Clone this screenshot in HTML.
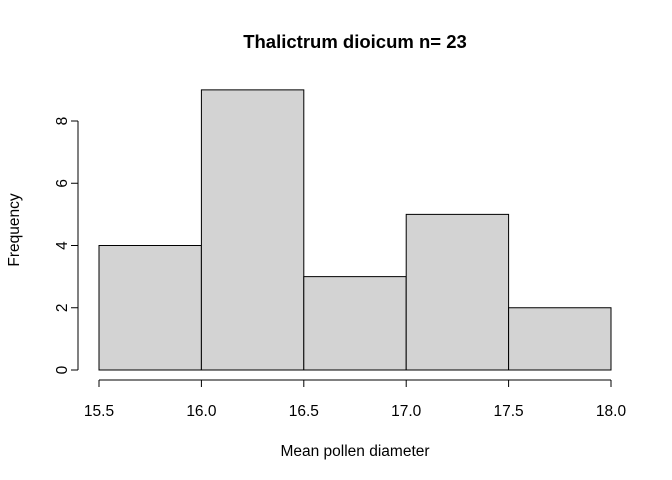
<!DOCTYPE html>
<html><head><meta charset="utf-8"><style>body{margin:0;background:#fff}svg{display:block;font-family:"Liberation Sans",Arial,sans-serif}</style></head>
<body>
<svg id="c" width="672" height="480">
<text x="355" y="48" text-anchor="middle" font-weight="bold" font-size="18.5">Thalictrum dioicum n= 23</text>
<text x="355" y="456" text-anchor="middle" font-size="15.5">Mean pollen diameter</text>
<text transform="translate(19,230) rotate(-90)" text-anchor="middle" font-size="15.5">Frequency</text>
<g id="bars"></g><g id="axes"></g>
</svg>
<script>
const binEdges=[15.5,16.0,16.5,17.0,17.5,18.0];
const counts=[4,9,3,5,2];
const xTicks=["15.5","16.0","16.5","17.0","17.5","18.0"];
const yTicks=[0,2,4,6,8];
const NS="http://www.w3.org/2000/svg";
const xs=v=>99+(v-15.5)*204.8;
const ys=v=>370-v*31.125;
function mk(t,a,p){const e=document.createElementNS(NS,t);for(const k in a)e.setAttribute(k,a[k]);p.appendChild(e);return e;}
const bars=document.getElementById('bars'),axes=document.getElementById('axes');
counts.forEach((c,i)=>{
 const r=mk('rect',{x:xs(binEdges[i]),y:ys(c),width:xs(binEdges[i+1])-xs(binEdges[i]),height:ys(0)-ys(c),fill:'#d3d3d3',stroke:'#000','stroke-width':1},bars);
 
 
});
const xa=mk('line',{x1:xs(15.5),x2:xs(18),y1:380,y2:380,stroke:'#000'},axes);


xTicks.forEach(t=>{const x=xs(+t);mk('line',{x1:x,x2:x,y1:380,y2:387,stroke:'#000'},axes);
 const tx=mk('text',{x:x,y:416,'text-anchor':'middle','font-size':15.5},axes);tx.textContent=t;
 
 });
const ya=mk('line',{x1:78,x2:78,y1:ys(0),y2:ys(8),stroke:'#000'},axes);


yTicks.forEach(t=>{const y=ys(t);mk('line',{x1:71,x2:78,y1:y,y2:y,stroke:'#000'},axes);
 const tx=mk('text',{transform:`translate(67,${y}) rotate(-90)`,'text-anchor':'middle','font-size':15.5},axes);tx.textContent=t;
 
 });
</script>
</body></html>
